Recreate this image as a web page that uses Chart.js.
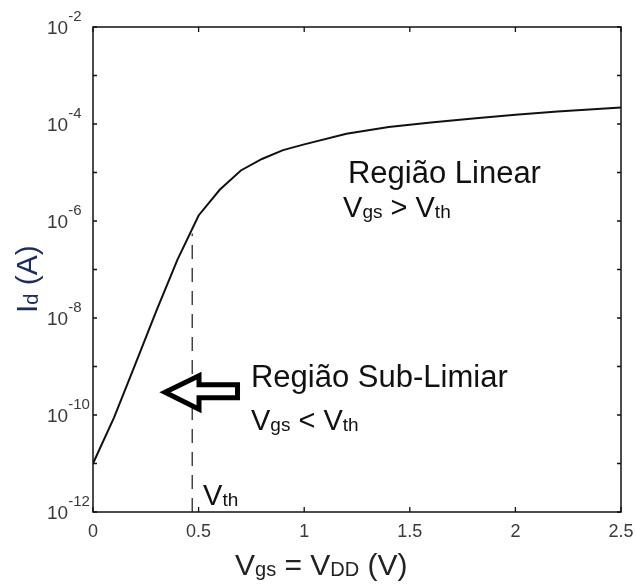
<!DOCTYPE html>
<html>
<head>
<meta charset="utf-8">
<script src="https://cdn.jsdelivr.net/npm/chart.js@4"></script>
<style>
   body { margin: 0; background: #fff; }
</style>
</head>
<body>
<canvas id="chart" width="636" height="585"></canvas>
<script>
// curva Id x Vgs (escala log)
const vgs = [0, 0.1, 0.2, 0.3, 0.4, 0.5, 0.6, 0.7, 0.8, 0.9, 1.0, 1.2, 1.4, 1.6, 1.8, 2.0, 2.2, 2.5]
const idA = [1.0e-11, 8.9e-11, 1.1e-9, 1.4e-8, 1.6e-7, 1.3e-6, 4.4e-6, 1.1e-5, 1.9e-5, 2.9e-5,
   3.8e-5, 6.3e-5, 8.7e-5, 1.07e-4, 1.3e-4, 1.55e-4, 1.8e-4, 2.2e-4]

const vth = 0.47
const vthTop = 5.5e-7

const xTicks = [0, 0.5, 1, 1.5, 2, 2.5]
const yExps = [-12, -11, -10, -9, -8, -7, -6, -5, -4, -3, -2]
const yLabelExps = [-12, -10, -8, -6, -4, -2]

const FONT = "'Liberation Sans', Arial, sans-serif"

function pow10(e) {
   return Number('1e' + e)
}

// texto com subscrito / sobrescrito
function drawRich(ctx, parts, x, y, size, subSize, color, align) {
   ctx.fillStyle = color
   ctx.textBaseline = 'alphabetic'
   ctx.textAlign = 'left'
   let w = 0
   parts.forEach(p => {
      ctx.font = (p[1] === 'n' ? size : subSize) + 'px ' + FONT
      w += ctx.measureText(p[0]).width
   })
   let cx = align === 'center' ? x - w / 2 : x
   parts.forEach(p => {
      ctx.font = (p[1] === 'n' ? size : subSize) + 'px ' + FONT
      let dy = 0
      if (p[1] === 's') dy = 1
      if (p[1] === 'p') dy = -13
      ctx.fillText(p[0], cx, y + dy)
      cx += ctx.measureText(p[0]).width
   })
}

const frame = {
   id: 'frame',
   afterDraw(chart) {
      const { ctx, chartArea: a, scales: { x, y } } = chart
      // posicao em coordenadas de dados (expoente pode ser fracionario)
      const at = (v, e) => [x.getPixelForValue(v), y.getPixelForValue(Math.pow(10, e))]

      ctx.save()
      ctx.strokeStyle = '#111'
      ctx.lineWidth = 1.5
      ctx.strokeRect(a.left, a.top, a.width, a.height)

      // ticks para dentro
      ctx.lineWidth = 1.3
      ctx.beginPath()
      xTicks.forEach(v => {
         const px = x.getPixelForValue(v)
         ctx.moveTo(px, a.bottom); ctx.lineTo(px, a.bottom - 5)
         ctx.moveTo(px, a.top); ctx.lineTo(px, a.top + 5)
      })
      yExps.forEach(e => {
         const py = y.getPixelForValue(pow10(e))
         ctx.moveTo(a.left, py); ctx.lineTo(a.left + 4, py)
         ctx.moveTo(a.right, py); ctx.lineTo(a.right - 4, py)
      })
      ctx.stroke()

      // rotulos do eixo y: 10^n
      yLabelExps.forEach(e => {
         const py = y.getPixelForValue(pow10(e))
         drawRich(ctx, [['10', 'n'], [String(e), 'p']], 47, py + 7, 19, 15, '#3a3a3a', 'left')
      })

      // titulo eixo y
      ctx.save()
      ctx.translate(37, 313)
      ctx.rotate(-Math.PI / 2)
      drawRich(ctx, [['I', 'n'], ['d', 's'], [' (A)', 'n']], 0, 0, 30, 20, '#1d2c5e', 'left')
      ctx.restore()

      // titulo eixo x
      drawRich(ctx, [['V', 'n'], ['gs', 's'], [' = V', 'n'], ['DD', 's'], [' (V)', 'n']],
         235, 575, 30, 20, '#222', 'left')

      // anotacoes
      let p = at(1.207, -5.22)
      drawRich(ctx, [['Região Linear', 'n']], p[0], p[1], 31, 20, '#111', 'left')
      p = at(1.184, -5.92)
      drawRich(ctx, [['V', 'n'], ['gs', 's'], [' > V', 'n'], ['th', 's']], p[0], p[1], 29, 19, '#111', 'left')
      p = at(0.748, -9.42)
      drawRich(ctx, [['Região Sub-Limiar', 'n']], p[0], p[1], 31, 20, '#111', 'left')
      p = at(0.748, -10.31)
      drawRich(ctx, [['V', 'n'], ['gs', 's'], [' < V', 'n'], ['th', 's']], p[0], p[1], 29, 19, '#111', 'left')
      p = at(0.521, -11.86)
      drawRich(ctx, [['V', 'n'], ['th', 's']], p[0], p[1], 29, 19, '#111', 'left')

      // seta para a esquerda
      const t = at(0.341, -9.53)
      const pts = [[0, 0], [34, -16.5], [34, -7.5], [72.5, -7.5], [72.5, 5.5], [34, 5.5], [34, 17]]
      ctx.beginPath()
      pts.forEach((q, i) => {
         if (i === 0) ctx.moveTo(t[0] + q[0], t[1] + q[1])
         else ctx.lineTo(t[0] + q[0], t[1] + q[1])
      })
      ctx.closePath()
      ctx.fillStyle = '#fff'
      ctx.fill()
      ctx.lineWidth = 5
      ctx.lineJoin = 'miter'
      ctx.strokeStyle = '#000'
      ctx.stroke()

      ctx.restore()
   }
}

new Chart(document.getElementById('chart'), {
   type: 'line',
   data: {
      datasets: [
         {
            data: vgs.map((v, i) => ({ x: v, y: idA[i] })),
            borderColor: '#111',
            borderWidth: 2,
            pointRadius: 0,
            tension: 0,
            fill: false
         },
         {
            data: [{ x: vth, y: 1e-12 }, { x: vth, y: vthTop }],
            borderColor: '#444',
            borderWidth: 1.5,
            borderDash: [14, 9],
            pointRadius: 0,
            fill: false
         }
      ]
   },
   options: {
      responsive: false,
      animation: false,
      devicePixelRatio: 1,
      layout: { padding: { top: 27, right: 15, left: 0, bottom: 0 } },
      plugins: {
         legend: { display: false },
         tooltip: { enabled: false }
      },
      scales: {
         x: {
            type: 'linear',
            min: 0,
            max: 2.5,
            afterBuildTicks: s => { s.ticks = xTicks.map(v => ({ value: v })) },
            afterFit: s => { s.height = 73; s.paddingLeft = 0; s.paddingRight = 0 },
            ticks: {
               font: { size: 18, family: FONT },
               color: '#3a3a3a',
               padding: 9,
               maxRotation: 0,
               autoSkip: false,
               callback: v => String(v)
            },
            grid: { display: false, drawTicks: false },
            border: { display: false }
         },
         y: {
            type: 'logarithmic',
            min: 1e-12,
            max: 1e-2,
            afterBuildTicks: s => { s.ticks = yExps.map(e => ({ value: pow10(e) })) },
            afterFit: s => { s.width = 93; s.paddingTop = 0; s.paddingBottom = 0 },
            ticks: { display: false },
            grid: { display: false, drawTicks: false },
            border: { display: false }
         }
      }
   },
   plugins: [frame]
})
</script>
</body>
</html>
